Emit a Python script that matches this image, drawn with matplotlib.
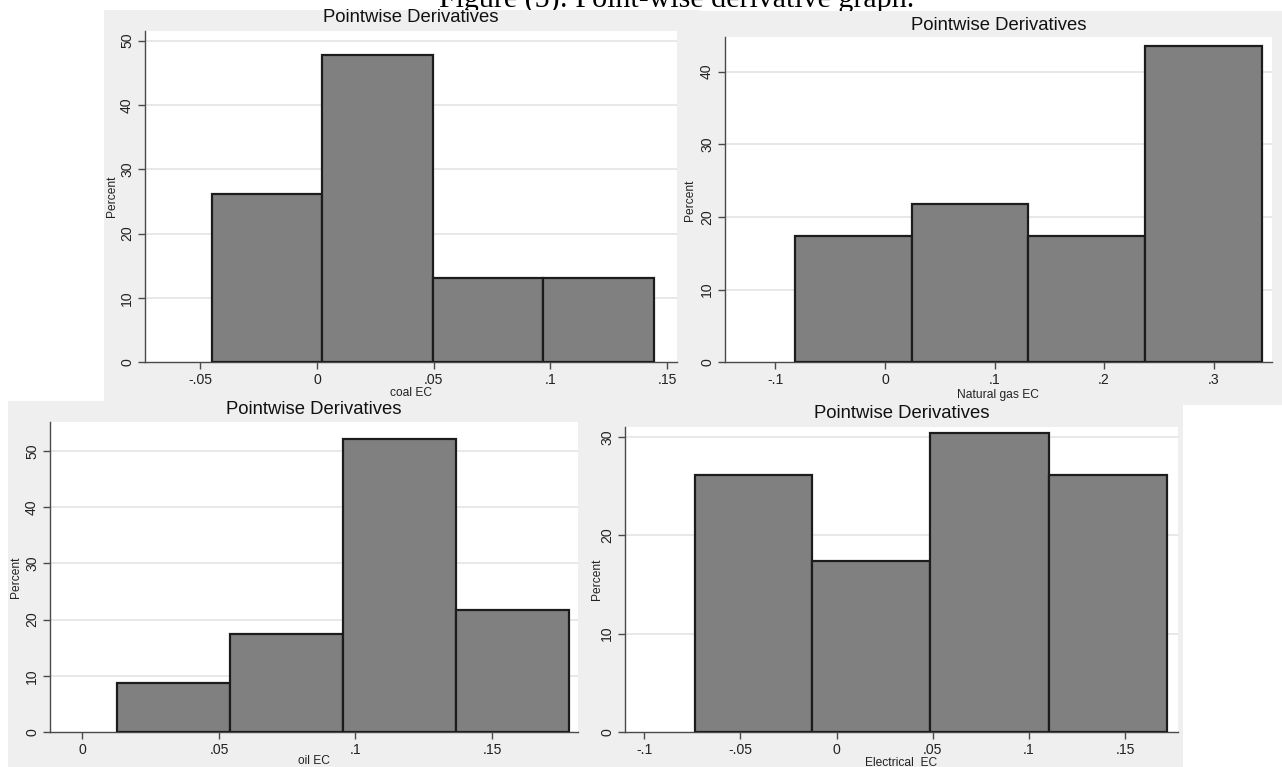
import numpy as np
import matplotlib
matplotlib.use("Agg")
import matplotlib.pyplot as plt
from matplotlib.patches import Rectangle

W, H = 1282, 767
DPI = 100

# Histogram bins (left edges plus final right edge) and percent per bin
coal_edges = [-0.0450, 0.0023, 0.0497, 0.0970, 0.1443]
coal_pct = [26.09, 47.83, 13.04, 13.04]

gas_edges = [-0.0822, 0.0244, 0.1310, 0.2376, 0.3442]
gas_pct = [17.39, 21.74, 17.39, 43.48]

oil_edges = [0.0125, 0.0539, 0.0955, 0.1369, 0.1782]
oil_pct = [8.70, 17.39, 52.17, 21.74]

elec_edges = [-0.0737, -0.0127, 0.0488, 0.1105, 0.1716]
elec_pct = [26.09, 17.39, 30.43, 26.09]

coal_xticks = [-0.05, 0, 0.05, 0.10, 0.15]
coal_xlabels = ["-.05", "0", ".05", ".1", ".15"]
gas_xticks = [-0.1, 0, 0.1, 0.2, 0.3]
gas_xlabels = ["-.1", "0", ".1", ".2", ".3"]
oil_xticks = [0, 0.05, 0.10, 0.15]
oil_xlabels = ["0", ".05", ".1", ".15"]
elec_xticks = [-0.1, -0.05, 0, 0.05, 0.10, 0.15]
elec_xlabels = ["-.1", "-.05", "0", ".05", ".1", ".15"]

plt.rcParams["font.family"] = ["Liberation Sans", "DejaVu Sans"]

BG = "#efefef"
BAR = "#808080"
EDGE = "#1c1c1c"
AXC = "#4a4a4a"
GRID = "#e8e8e8"


def pt(px):
    return px * 72.0 / DPI


def fx(x):
    return x / W


def fy(y):
    return 1 - y / H


fig = plt.figure(figsize=(W / DPI, H / DPI), dpi=DPI)
fig.patch.set_facecolor("white")

# Page caption sitting above the panels, its upper half off the page
fig.text(fx(677), fy(7), "Figure (5): Point-wise derivative graph.",
         family=["Liberation Serif", "DejaVu Serif"], fontsize=pt(30),
         ha="center", va="baseline", zorder=1)


def panel(z, bg, box, xlim, ylim, yticks, xticks, xlabels, edges, pct,
          xlabel, title_y, xlabel_y, ylabel_x):
    gx0, gy0, gx1, gy1 = bg
    fig.patches.append(Rectangle((fx(gx0), fy(gy1)), fx(gx1 - gx0), (gy1 - gy0) / H,
                                 transform=fig.transFigure, facecolor=BG,
                                 edgecolor="none", zorder=z))
    x0, y0, x1, y1 = box
    ax = fig.add_axes([fx(x0), fy(y1), fx(x1 - x0), (y1 - y0) / H])
    ax.set_zorder(z + 1)
    ax.set_facecolor("white")
    edges = np.asarray(edges)
    ax.bar(edges[:-1], pct, width=np.diff(edges), align="edge",
           color=BAR, edgecolor=EDGE, linewidth=1.6, zorder=3)
    ax.set_xlim(*xlim)
    ax.set_ylim(*ylim)
    ax.set_yticks(yticks)
    ax.set_yticklabels([str(v) for v in yticks])
    ax.set_xticks(xticks)
    ax.set_xticklabels(xlabels)
    for v in yticks:
        if v > 0:
            ax.axhline(v, color=GRID, lw=1.4, zorder=1)
    for s in ("top", "right"):
        ax.spines[s].set_visible(False)
    for s in ("left", "bottom"):
        ax.spines[s].set_color(AXC)
        ax.spines[s].set_linewidth(1.0)
    ax.tick_params(axis="both", length=5, width=1.0, color=AXC,
                   labelsize=pt(14), labelcolor="#222222", pad=pt(4))
    ax.tick_params(axis="y", labelrotation=90)
    for lab in ax.get_yticklabels():
        lab.set_va("center")
    xc = (x0 + x1) / 2
    fig.text(fx(xc), fy(title_y), "Pointwise Derivatives", fontsize=pt(18.5),
             ha="center", va="center", color="#111111", zorder=z + 2)
    fig.text(fx(xc), fy(xlabel_y), xlabel, fontsize=pt(12), ha="center",
             va="center", color="#222222", zorder=z + 2)
    fig.text(fx(ylabel_x), fy((y0 + y1) / 2), "Percent", fontsize=pt(12),
             ha="center", va="center", rotation=90, color="#222222", zorder=z + 2)
    return ax


panel(10, (104, 10, 700, 401), (145, 31, 677, 362.3),
      (-0.0736, 0.1542), (0, 51.5), [0, 10, 20, 30, 40, 50],
      coal_xticks, coal_xlabels, coal_edges, coal_pct,
      "coal EC", 18, 393, 112)

panel(20, (680, 11, 1282, 405), (725, 37.3, 1271.7, 362.3),
      (-0.146, 0.353), (0, 44.73), [0, 10, 20, 30, 40],
      gas_xticks, gas_xlabels, gas_edges, gas_pct,
      "Natural gas EC", 25, 395, 690)

panel(30, (8, 400.7, 600, 767), (50, 421.7, 578, 732),
      (-0.0119, 0.1815), (0, 55.2), [0, 10, 20, 30, 40, 50],
      oil_xticks, oil_xlabels, oil_edges, oil_pct,
      "oil EC", 410, 761, 16)

panel(40, (588, 400.7, 1183, 767), (625, 427, 1177.5, 732),
      (-0.110, 0.1773), (0, 31.0), [0, 10, 20, 30],
      elec_xticks, elec_xlabels, elec_edges, elec_pct,
      "Electrical  EC", 414, 763, 597)

fig.savefig("out.png", dpi=DPI, facecolor="white")
